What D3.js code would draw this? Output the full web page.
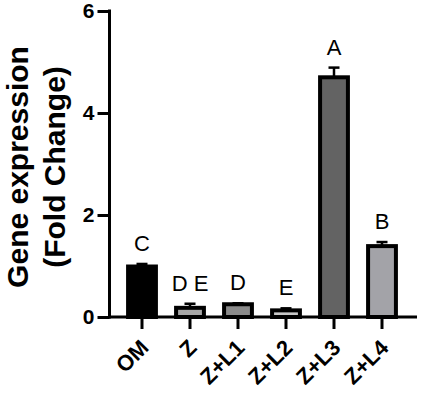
<!DOCTYPE html>
<html>
<head>
<meta charset="utf-8">
<script src="https://cdn.jsdelivr.net/npm/d3@7"></script>
<style>
  body { margin: 0; background: #fff; }
  svg { display: block; }
  svg text { font-family: "Liberation Sans", Arial, sans-serif; fill: #000; }
</style>
</head>
<body>
<div id="chart"></div>
<script>
// Data
const groups = ["OM", "Z", "Z+L1", "Z+L2", "Z+L3", "Z+L4"];
const means = [0.99, 0.18, 0.25, 0.13, 4.70, 1.39];
const errors = [0.05, 0.08, 0.02, 0.04, 0.19, 0.08];
const letters = ["C", "D E", "D", "E", "A", "B"];
const fills = ["#000000", "#a6a6a6", "#8a8a8a", "#c8c8c8", "#636363", "#a3a3a8"];
const yTicks = [0, 2, 4, 6];

const W = 421, H = 393;

const svg = d3.select("#chart")
  .append("svg")
    .attr("width", W)
    .attr("height", H);

// Scales
const x = d3.scaleBand()
  .domain(groups)
  .range([118, 406])
  .paddingInner(0.42)
  .paddingOuter(0.21);

const y = d3.scaleLinear()
  .domain([0, 6])
  .range([317, 11]);

const axisX = 109.5;

// Bars
svg.selectAll(".bar")
  .data(groups)
  .enter()
  .append("rect")
    .attr("class", "bar")
    .attr("x", d => x(d))
    .attr("y", (d, i) => y(means[i]))
    .attr("width", x.bandwidth())
    .attr("height", (d, i) => y(0) - y(means[i]))
    .attr("fill", (d, i) => fills[i])
    .attr("stroke", "#000")
    .attr("stroke-width", 4);

// Error bars (upper only)
const err = svg.selectAll(".err")
  .data(groups)
  .enter()
  .append("g")
    .attr("class", "err")
    .attr("stroke", "#000")
    .attr("stroke-width", 2.5);

err.append("line")
  .attr("x1", d => x(d) + x.bandwidth() / 2)
  .attr("x2", d => x(d) + x.bandwidth() / 2)
  .attr("y1", (d, i) => y(means[i]))
  .attr("y2", (d, i) => y(means[i] + errors[i]));

err.append("line")
  .attr("x1", d => x(d) + x.bandwidth() / 2 - 5.5)
  .attr("x2", d => x(d) + x.bandwidth() / 2 + 5.5)
  .attr("y1", (d, i) => y(means[i] + errors[i]))
  .attr("y2", (d, i) => y(means[i] + errors[i]));

// Significance letters
svg.selectAll(".letter")
  .data(groups)
  .enter()
  .append("text")
    .attr("class", "letter")
    .attr("x", d => x(d) + x.bandwidth() / 2)
    .attr("y", (d, i) => y(means[i] + errors[i]) - 13)
    .attr("text-anchor", "middle")
    .style("font-size", "22px")
    .text((d, i) => letters[i]);

// Y axis
const gy = svg.append("g")
  .attr("transform", `translate(${axisX},0)`)
  .call(d3.axisLeft(y).tickValues(yTicks).tickSize(12).tickPadding(3).tickFormat(d3.format("d")));
gy.select(".domain").remove();
gy.selectAll(".tick line").attr("stroke-width", 3);
gy.selectAll(".tick text")
  .style("font-size", "21px")
  .style("font-weight", "bold");

svg.append("line")
  .attr("x1", axisX).attr("x2", axisX)
  .attr("y1", y(6) - 1.5).attr("y2", y(0) + 1.5)
  .attr("stroke", "#000")
  .attr("stroke-width", 3);

// X axis
const gx = svg.append("g")
  .attr("transform", `translate(0,${y(0)})`)
  .call(d3.axisBottom(x).tickSize(12).tickSizeOuter(0));
gx.select(".domain").remove();
gx.selectAll(".tick line").attr("stroke-width", 3);
gx.selectAll(".tick text")
  .attr("x", 0)
  .attr("y", 0)
  .attr("dy", 0)
  .attr("transform", "translate(8,32) rotate(-45)")
  .attr("text-anchor", "end")
  .style("font-size", "22px")
  .style("font-weight", "bold");

svg.append("line")
  .attr("x1", axisX - 1.5).attr("x2", 417)
  .attr("y1", y(0)).attr("y2", y(0))
  .attr("stroke", "#000")
  .attr("stroke-width", 3);

// Y axis title, two lines
const yTitle = ["Gene expression", "(Fold Change)"];
svg.selectAll(".ytitle")
  .data(yTitle)
  .enter()
  .append("text")
    .attr("class", "ytitle")
    .attr("transform", (d, i) => `translate(${28 + i * 37},167) rotate(-90)`)
    .attr("text-anchor", "middle")
    .style("font-size", "30px")
    .style("font-weight", "bold")
    .text(d => d);
</script>
</body>
</html>
